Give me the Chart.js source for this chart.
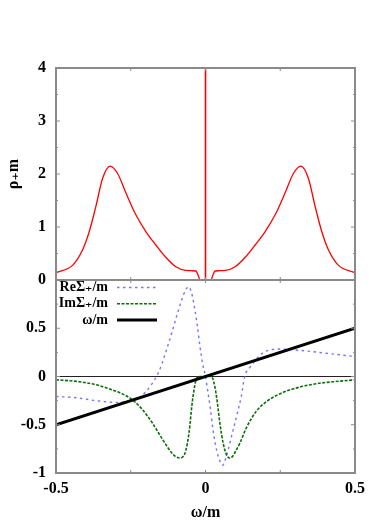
<!DOCTYPE html>
<html>
<head>
<meta charset="utf-8">
<script src="https://cdn.jsdelivr.net/npm/chart.js@4/dist/chart.umd.min.js"></script>
<style>
  html, body { margin: 0; padding: 0; background: #fff; }
  #grafico { display: block; }
</style>
</head>
<body>
<canvas id="grafico" width="374" height="523"></canvas>
<script>
// --- Datos ---

// Panel superior: rho_+ m frente a omega/m
const rhoOmega = [-0.5, -0.444, -0.411, -0.389, -0.367, -0.344, -0.319, -0.294, -0.266, -0.233,
                  -0.199, -0.166, -0.133, -0.099, -0.066, -0.045, -0.032, -0.024, -0.018, 0,
                  0.018, 0.024, 0.032, 0.045, 0.066, 0.099, 0.133, 0.166, 0.199, 0.233,
                  0.266, 0.294, 0.319, 0.344, 0.367, 0.389, 0.411, 0.444, 0.5];
const rhoValores = [0.14, 0.28, 0.57, 0.91, 1.38, 1.92, 2.15, 2.01, 1.64, 1.23,
                    0.91, 0.66, 0.43, 0.25, 0.18, 0.175, 0.17, 0.08, 0, 0,
                    0, 0.08, 0.17, 0.175, 0.18, 0.25, 0.43, 0.66, 0.91, 1.23,
                    1.64, 2.01, 2.15, 1.92, 1.38, 0.91, 0.57, 0.28, 0.14];
// pico delta en omega = 0
const deltaOmega = [0, 0];
const deltaValores = [0, 4];

// Panel inferior: Re Sigma_+/m
const reOmega = [-0.5, -0.433, -0.367, -0.3, -0.26, -0.23, -0.2, -0.18, -0.164, -0.147,
                 -0.13, -0.113, -0.097, -0.08, -0.066, -0.058, -0.05, -0.043, -0.035, -0.027,
                 -0.018, -0.01, 0, 0.009, 0.017, 0.025, 0.033, 0.042, 0.053, 0.058,
                 0.064, 0.075, 0.087, 0.104, 0.12, 0.131, 0.15, 0.17, 0.19, 0.21,
                 0.25, 0.3, 0.35, 0.42, 0.5];
const reValores = [-0.207, -0.22, -0.25, -0.268, -0.26, -0.235, -0.16, -0.08, 0, 0.12,
                   0.28, 0.45, 0.62, 0.79, 0.9, 0.93, 0.9, 0.82, 0.68, 0.52,
                   0.3, 0.14, 0, -0.18, -0.35, -0.55, -0.7, -0.82, -0.91, -0.92,
                   -0.88, -0.77, -0.62, -0.41, -0.2, 0, 0.1, 0.18, 0.24, 0.27,
                   0.285, 0.275, 0.26, 0.235, 0.207];

// Panel inferior: Im Sigma_+/m
const imOmega = [-0.5, -0.433, -0.367, -0.311, -0.278, -0.245, -0.212, -0.178, -0.144, -0.116,
                 -0.1, -0.086, -0.075, -0.066, -0.055, -0.044, -0.032, -0.021, 0, 0.02,
                 0.028, 0.037, 0.048, 0.059, 0.07, 0.081, 0.09, 0.098, 0.115, 0.137,
                 0.17, 0.204, 0.259, 0.315, 0.37, 0.426, 0.5];
const imValores = [-0.035, -0.05, -0.085, -0.14, -0.18, -0.24, -0.34, -0.48, -0.65, -0.78,
                   -0.83, -0.845, -0.83, -0.77, -0.58, -0.26, -0.04, 0, 0, 0,
                   -0.06, -0.21, -0.48, -0.69, -0.81, -0.845, -0.83, -0.79, -0.69, -0.53,
                   -0.36, -0.26, -0.165, -0.11, -0.075, -0.055, -0.035];

// Panel inferior: recta omega/m
const rectaOmega = [-0.5, 0.5];
const rectaValores = [-0.5, 0.5];

// Marcas de los ejes
const ticksX = [-0.5, 0, 0.5];
const ticksYSup = [0, 1, 2, 3, 4];
const ticksYInf = [-1, -0.5, 0, 0.5, 1];

// Une dos listas en puntos {x, y}
function puntos(xs, ys) {
    return xs.map((x, i) => ({ x: x, y: ys[i] }));
}

const gris = '#8a8a8a';
const fuenteTicks = { family: '"Liberation Serif", "DejaVu Serif", serif', size: 16, weight: 'bold' };
const fuenteTitulo = { family: '"Liberation Serif", "DejaVu Serif", serif', size: 16, weight: 'bold' };

// --- Marco, marcas interiores y eje cero (estilo gnuplot) ---
const marco = {
    id: 'marco',
    beforeDatasetsDraw(chart) {
        const { ctx, chartArea } = chart;
        const y0 = chart.scales.yInf.getPixelForValue(0);
        ctx.save();
        ctx.strokeStyle = '#222';
        ctx.lineWidth = 1;
        ctx.beginPath();
        ctx.moveTo(chartArea.left, y0);
        ctx.lineTo(chartArea.right, y0);
        ctx.stroke();
        ctx.restore();
    },
    afterDatasetsDraw(chart) {
        const { ctx, chartArea } = chart;
        const { left, right } = chartArea;
        const escalaX = chart.scales.x;
        ctx.save();
        ctx.strokeStyle = gris;
        ['ySup', 'yInf'].forEach(id => {
            const s = chart.scales[id];
            const valores = s.ticks.map(t => t.value);
            ctx.lineWidth = 1;
            ctx.beginPath();
            valores.forEach((v, i) => {
                const py = s.getPixelForValue(v);
                ctx.moveTo(left, py); ctx.lineTo(left + 4, py);
                ctx.moveTo(right, py); ctx.lineTo(right - 4, py);
                if (i < valores.length - 1) {
                    const pm = s.getPixelForValue((v + valores[i + 1]) / 2);
                    ctx.moveTo(left, pm); ctx.lineTo(left + 2, pm);
                    ctx.moveTo(right, pm); ctx.lineTo(right - 2, pm);
                }
            });
            const valoresX = [];
            ticksX.forEach((v, i) => {
                valoresX.push(v);
                if (i < ticksX.length - 1) valoresX.push((v + ticksX[i + 1]) / 2);
            });
            valoresX.forEach(v => {
                const px = escalaX.getPixelForValue(v);
                ctx.moveTo(px, s.top); ctx.lineTo(px, s.top + 3);
                ctx.moveTo(px, s.bottom); ctx.lineTo(px, s.bottom - 3);
            });
            ctx.stroke();
            ctx.lineWidth = 2;
            ctx.strokeRect(left, s.top, right - left, s.bottom - s.top);
        });
        ctx.restore();
    }
};

// --- Leyenda: texto alineado a la derecha y muestra de línea ---
const leyenda = {
    id: 'leyenda',
    afterDraw(chart) {
        const { ctx, chartArea } = chart;
        const arriba = chart.scales.yInf.top;
        const orden = ['ReΣ₊/m', 'ImΣ₊/m', 'ω/m'];
        ctx.save();
        ctx.font = 'bold 14px "Liberation Serif", "DejaVu Serif", serif';
        ctx.textAlign = 'right';
        ctx.textBaseline = 'middle';
        ctx.fillStyle = '#000';
        orden.forEach((etiqueta, i) => {
            const ds = chart.data.datasets.find(d => d.label === etiqueta);
            const y = arriba + 7.5 + 16.3 * i;
            ctx.fillText(etiqueta, chartArea.left + 52, y);
            ctx.strokeStyle = ds.borderColor;
            ctx.lineWidth = ds.borderWidth;
            ctx.setLineDash(ds.borderDash || []);
            ctx.beginPath();
            ctx.moveTo(chartArea.left + 61, y);
            ctx.lineTo(chartArea.left + 101, y);
            ctx.stroke();
        });
        ctx.restore();
    }
};

try {
    const ctx = document.getElementById('grafico');
    new Chart(ctx, {
        type: 'line',
        data: {
            datasets: [
                {
                    label: 'ω/m',
                    data: puntos(rectaOmega, rectaValores),
                    yAxisID: 'yInf',
                    borderColor: '#000',
                    borderWidth: 3,
                    pointRadius: 0
                },
                {
                    label: 'ImΣ₊/m',
                    data: puntos(imOmega, imValores),
                    yAxisID: 'yInf',
                    borderColor: '#0a6e0a',
                    borderWidth: 1.6,
                    borderDash: [3, 1.5],
                    pointRadius: 0,
                    cubicInterpolationMode: 'monotone'
                },
                {
                    label: 'ReΣ₊/m',
                    data: puntos(reOmega, reValores),
                    yAxisID: 'yInf',
                    borderColor: '#7474ff',
                    borderWidth: 1.4,
                    borderDash: [2.5, 3.5],
                    pointRadius: 0,
                    cubicInterpolationMode: 'monotone'
                },
                {
                    label: 'delta',
                    data: puntos(deltaOmega, deltaValores),
                    yAxisID: 'ySup',
                    borderColor: '#ff0000',
                    borderWidth: 1.6,
                    pointRadius: 0
                },
                {
                    label: 'rho',
                    data: puntos(rhoOmega, rhoValores),
                    yAxisID: 'ySup',
                    borderColor: '#ff0000',
                    borderWidth: 1.3,
                    pointRadius: 0,
                    cubicInterpolationMode: 'monotone'
                }
            ]
        },
        options: {
            responsive: false,
            animation: false,
            devicePixelRatio: 1,
            layout: { padding: { top: 68, right: 19, bottom: 0, left: 0 } },
            plugins: { legend: { display: false }, tooltip: { enabled: false } },
            scales: {
                x: {
                    type: 'linear',
                    min: -0.5,
                    max: 0.5,
                    afterBuildTicks: s => { s.ticks = ticksX.map(v => ({ value: v })); },
                    afterFit: s => { s.height = 50; },
                    grid: { display: false, drawTicks: false },
                    border: { display: false },
                    ticks: { padding: 6, font: fuenteTicks, color: '#000', maxRotation: 0, callback: v => String(v) },
                    title: { display: true, text: 'ω/m', font: fuenteTitulo, color: '#000', padding: { top: 0, bottom: 1 } }
                },
                yInf: {
                    type: 'linear',
                    position: 'left',
                    stack: 'paneles',
                    stackWeight: 193,
                    min: -1,
                    max: 1,
                    afterBuildTicks: s => { s.ticks = ticksYInf.map(v => ({ value: v })); },
                    afterFit: s => { s.width = 56; },
                    grid: { display: false, drawTicks: false },
                    border: { display: false },
                    ticks: { padding: 10, font: fuenteTicks, color: '#000', callback: v => (v === 1 ? '' : String(v)) }
                },
                ySup: {
                    type: 'linear',
                    position: 'left',
                    stack: 'paneles',
                    stackWeight: 212,
                    min: 0,
                    max: 4,
                    afterBuildTicks: s => { s.ticks = ticksYSup.map(v => ({ value: v })); },
                    afterFit: s => { s.width = 56; },
                    grid: { display: false, drawTicks: false },
                    border: { display: false },
                    ticks: { padding: 10, font: fuenteTicks, color: '#000', callback: v => String(v) },
                    title: { display: true, text: 'ρ₊m', font: fuenteTitulo, color: '#000', padding: { top: 4, bottom: 0 } }
                }
            }
        },
        plugins: [marco, leyenda]
    });
} catch (e) {
    console.error('Error al dibujar el gráfico:', e);
}
</script>
</body>
</html>
